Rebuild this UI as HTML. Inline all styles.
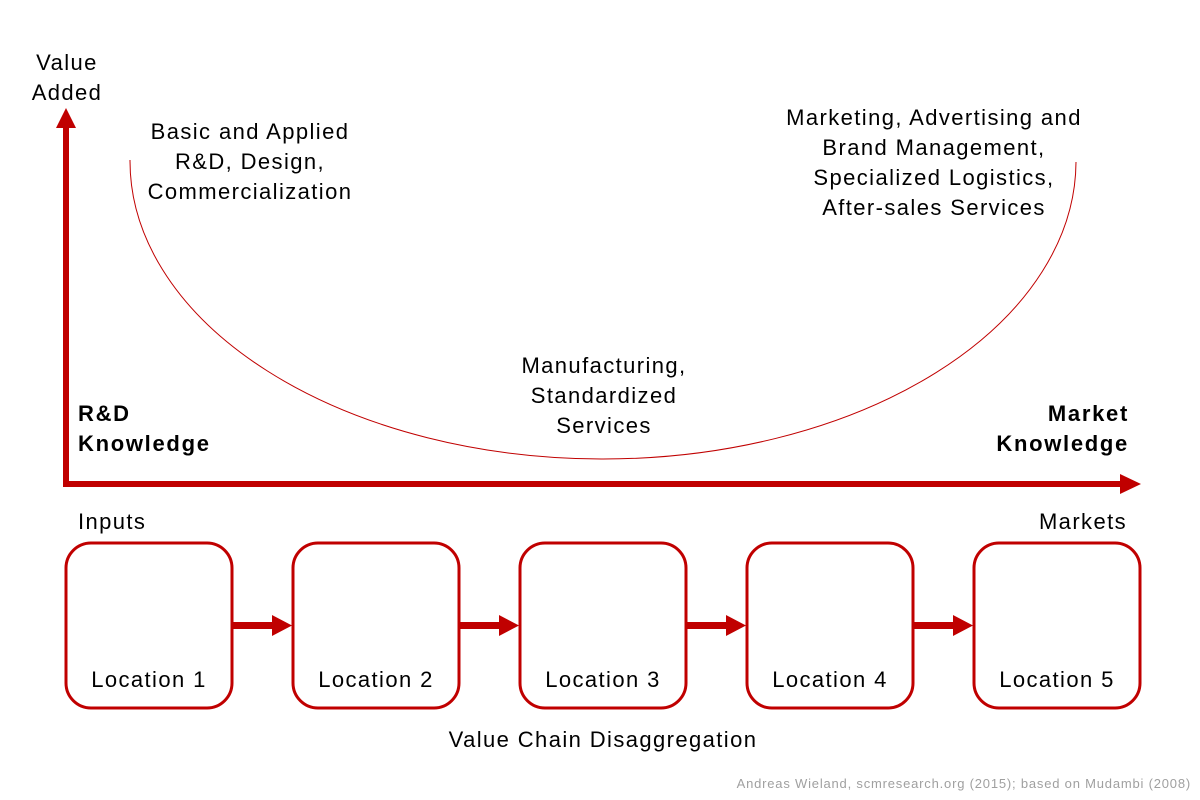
<!DOCTYPE html>
<html><head><meta charset="utf-8"><style>
html,body{margin:0;padding:0;background:#fff}
svg{display:block}
text{font-family:"Liberation Sans",Arial,sans-serif;fill:#000}
</style></head><body>
<svg width="1200" height="800" viewBox="0 0 1200 800" xmlns="http://www.w3.org/2000/svg">
<path d="M130,160 A473,298 0 0 0 1076,162" fill="none" stroke="#c00000" stroke-width="1"/>
<rect x="63" y="127" width="6" height="360" fill="#c00000"/>
<polygon points="56,128 66,108 76,128" fill="#c00000"/>
<rect x="63" y="481" width="1060" height="6" fill="#c00000"/>
<polygon points="1120,474 1141,484 1120,494" fill="#c00000"/>
<g fill="none" stroke="#c00000" stroke-width="3">
<rect x="66" y="543" width="166" height="165" rx="25"/>
<rect x="293" y="543" width="166" height="165" rx="25"/>
<rect x="520" y="543" width="166" height="165" rx="25"/>
<rect x="747" y="543" width="166" height="165" rx="25"/>
<rect x="974" y="543" width="166" height="165" rx="25"/>
</g>
<g fill="#c00000">
<rect x="232" y="622" width="42" height="7"/><polygon points="272,615 292,625.5 272,636"/>
<rect x="459" y="622" width="42" height="7"/><polygon points="499,615 519,625.5 499,636"/>
<rect x="686" y="622" width="42" height="7"/><polygon points="726,615 746,625.5 726,636"/>
<rect x="913" y="622" width="42" height="7"/><polygon points="953,615 973,625.5 953,636"/>
</g>
<g font-size="22" text-anchor="middle" letter-spacing="1.4">
<text x="67" y="70">Value</text>
<text x="67" y="100">Added</text>
<text x="250" y="139">Basic and Applied</text>
<text x="250" y="169">R&amp;D, Design,</text>
<text x="250" y="199">Commercialization</text>
<text x="934" y="125">Marketing, Advertising and</text>
<text x="934" y="155">Brand Management,</text>
<text x="934" y="185">Specialized Logistics,</text>
<text x="934" y="215">After-sales Services</text>
<text x="604" y="373">Manufacturing,</text>
<text x="604" y="403">Standardized</text>
<text x="604" y="433">Services</text>
<text x="149" y="687">Location 1</text>
<text x="376" y="687">Location 2</text>
<text x="603" y="687">Location 3</text>
<text x="830" y="687">Location 4</text>
<text x="1057" y="687">Location 5</text>
<text x="603" y="747">Value Chain Disaggregation</text>
</g>
<g font-size="22" letter-spacing="1.4">
<text x="78" y="529">Inputs</text>
<text x="1127" y="529" text-anchor="end">Markets</text>
</g>
<g font-size="22" font-weight="bold" letter-spacing="1.7">
<text x="78" y="421">R&amp;D</text>
<text x="78" y="451">Knowledge</text>
<text x="1129" y="421" text-anchor="end">Market</text>
<text x="1129" y="451" text-anchor="end">Knowledge</text>
</g>
<text x="1191" y="788" font-size="13" letter-spacing="0.8" text-anchor="end" style="fill:#a0a0a0">Andreas Wieland, scmresearch.org (2015); based on Mudambi (2008)</text>
</svg>
</body></html>
